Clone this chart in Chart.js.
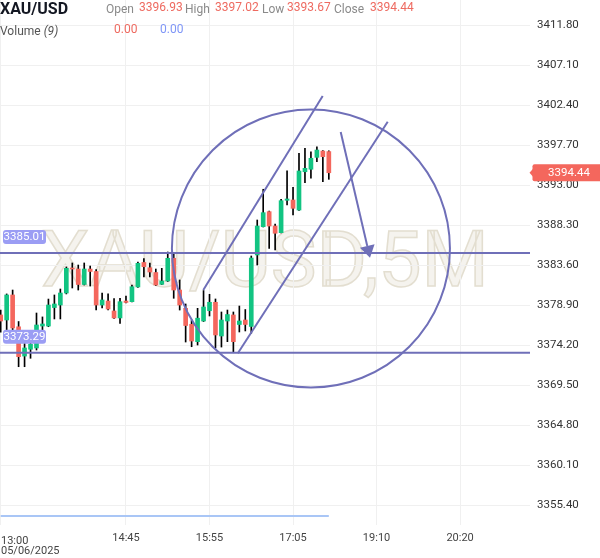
<!DOCTYPE html>
<html>
<head>
<meta charset="utf-8">
<script src="https://cdn.jsdelivr.net/npm/chart.js@4.4.0/dist/chart.umd.min.js"></script>
<style>
  html, body { margin: 0; padding: 0; background: #fff; }
  #wrap { position: relative; width: 600px; height: 558px; overflow: hidden; font-family: Roboto, sans-serif; }
  #wm {
    position: absolute; left: 0; top: 222px; width: 530px; text-align: center;
    font: 400 77px/77px Roboto, sans-serif; color: #f5f3ee;
    -webkit-text-stroke: 1.5px #e3ded0; white-space: nowrap; z-index: 0;
  }
  #box { position: absolute; left: 0; top: 0; width: 600px; height: 558px; z-index: 1; }
  .t { position: absolute; white-space: nowrap; font-size: 12px; line-height: 14px; z-index: 2; }
  .sym { font-weight: 700; font-size: 16px; line-height: 18px; color: #131722; left: 0; top: 0; }
  .k { color: #8a8a8a; top: 2px; }
  .v { color: #ee6a60; top: 0; }
  .vol { color: #555; top: 24px; left: 0; }
  .vb { color: #7f96f7; }
</style>
</head>
<body>
<div id="wrap">
  <div id="wm">XAU/USD,5M</div>
  <div id="box"><canvas id="c"></canvas></div>
  <div class="t sym">XAU/USD</div>
  <div class="t k" style="left:106px">Open</div><div class="t v" id="vO" style="left:139px"></div>
  <div class="t k" style="left:185px">High</div><div class="t v" id="vH" style="left:215px"></div>
  <div class="t k" style="left:262px">Low</div><div class="t v" id="vL" style="left:287px"></div>
  <div class="t k" style="left:334px">Close</div><div class="t v" id="vC" style="left:370px"></div>
  <div class="t vol">Volume <i>(9)</i></div>
  <div class="t v" style="left:114px;top:22px">0.00</div>
  <div class="t v vb" style="left:160px;top:22px">0.00</div>
</div>
<script>
// 5 minute candles from 13:00, index = bar number
const open  = [3377.73,3377.14,3380.08,3376.34,3372.90,3373.70,3373.85,3376.43,3376.43,3378.60,
               3378.90,3380.31,3383.25,3383.13,3381.31,3383.13,3382.84,3378.90,3379.37,3378.20,
               3377.38,3379.37,3379.29,3381.02,3383.90,3383.28,3382.72,3381.33,3381.72,3384.39,
               3380.66,3378.51,3376.63,3374.59,3377.02,3378.23,3379.22,3375.26,3377.02,3377.73,
               3376.61,3377.14,3376.38,3384.78,3388.10,3389.87,3388.18,3387.40,3391.20,3391.24,
               3390.06,3394.56,3394.85,3396.25,3396.99,3396.93];
const high  = [3378.30,3380.20,3380.66,3376.96,3374.43,3375.00,3377.96,3377.50,3379.60,3380.08,
               3380.78,3383.37,3383.84,3383.60,3383.84,3383.48,3383.07,3380.31,3380.20,3379.67,
               3379.69,3379.96,3381.25,3383.95,3384.36,3383.84,3383.13,3383.21,3385.13,3385.05,
               3381.84,3379.02,3377.14,3378.51,3380.60,3380.16,3379.61,3378.08,3378.31,3378.08,
               3378.78,3378.37,3384.66,3388.89,3392.50,3389.95,3388.42,3391.32,3394.68,3392.73,
               3396.73,3397.31,3396.91,3397.50,3397.05,3397.02];
const low   = [3375.70,3375.85,3375.85,3371.65,3371.65,3372.64,3373.61,3375.73,3376.35,3377.26,
               3377.26,3380.20,3380.90,3380.66,3381.25,3381.13,3378.31,3378.55,3378.31,3377.32,
               3376.75,3379.14,3379.25,3380.96,3382.19,3382.19,3381.19,3381.31,3381.66,3379.69,
               3378.31,3374.55,3374.00,3374.20,3376.96,3377.61,3373.85,3373.96,3374.59,3373.41,
               3375.73,3375.85,3375.58,3383.60,3388.07,3385.56,3385.36,3387.36,3390.65,3389.48,
               3390.00,3393.27,3393.79,3395.74,3393.39,3393.67];
const close = [3377.02,3380.08,3376.20,3372.83,3373.85,3374.28,3376.55,3376.67,3378.90,3379.02,
               3380.31,3383.21,3383.13,3381.31,3383.13,3382.84,3378.90,3379.49,3378.43,3377.38,
               3379.29,3379.20,3381.05,3383.80,3383.40,3382.78,3381.25,3381.72,3384.39,3380.66,
               3378.90,3376.49,3374.67,3377.35,3378.67,3379.22,3375.38,3377.14,3377.78,3374.59,
               3377.02,3376.61,3384.42,3388.18,3389.75,3388.18,3387.33,3391.16,3391.36,3390.26,
               3394.65,3394.96,3396.14,3397.11,3396.33,3394.44];
const volume = open.map(() => 0);

// axis ticks
const priceTicks = [3411.80,3407.10,3402.40,3397.70,3393.00,3388.30,3383.60,3378.90,3374.20,
                    3369.50,3364.80,3360.10,3355.40];
const timeTickIdx = [0, 21, 35, 49, 63, 77];
const timeTickText = ["13:00", "14:45", "15:55", "17:05", "19:10", "20:20"];
const dateText = "05/06/2025";

// user drawings, in (bar index, price)
const levels = [3385.01, 3373.29];
const channelA = [[33.96, 3380.66], [53.97, 3403.46]];
const channelB = [[39.75, 3373.23], [64.87, 3400.44]];
const arrowPath = [[56.99, 3399.23], [61.90, 3384.46]];
const circleCenter = [52.0, 3385.54];
const circleEdge = [75.3, 3385.54];

const GREEN = "#12c482", RED = "#f4675d", INK = "#6f6fb8", TAG = "#9b9df4";

const last = close.length - 1;
document.getElementById("vO").textContent = open[last].toFixed(2);
document.getElementById("vH").textContent = high[last].toFixed(2);
document.getElementById("vL").textContent = low[last].toFixed(2);
document.getElementById("vC").textContent = close[last].toFixed(2);

const noPad = ax => { ax.paddingTop = 0; ax.paddingBottom = 0; ax.paddingLeft = 0; ax.paddingRight = 0; };

const drawings = {
    id: "drawings",
    afterDatasetsDraw(chart) {
        const { ctx, chartArea: a, scales: { x, y } } = chart;
        const px = p => [x.getPixelForValue(p[0]), y.getPixelForValue(p[1])];
        ctx.save();
        ctx.beginPath();
        ctx.rect(a.left, a.top, a.right - a.left, a.bottom - a.top);
        ctx.clip();
        ctx.strokeStyle = INK;
        ctx.fillStyle = INK;
        ctx.lineWidth = 2;

        // horizontal levels
        levels.forEach(v => {
            const yy = y.getPixelForValue(v);
            ctx.beginPath(); ctx.moveTo(a.left, yy); ctx.lineTo(a.right, yy); ctx.stroke();
        });

        // channel
        [channelA, channelB].forEach(seg => {
            const p0 = px(seg[0]), p1 = px(seg[1]);
            ctx.beginPath(); ctx.moveTo(p0[0], p0[1]); ctx.lineTo(p1[0], p1[1]); ctx.stroke();
        });

        // circle
        const c = px(circleCenter), e = px(circleEdge);
        const r = Math.hypot(e[0] - c[0], e[1] - c[1]);
        ctx.beginPath(); ctx.arc(c[0], c[1], r, 0, Math.PI * 2); ctx.stroke();

        // arrow
        const s = px(arrowPath[0]), t = px(arrowPath[1]);
        const ang = Math.atan2(t[1] - s[1], t[0] - s[0]);
        const hl = 12, hw = 7.5;
        const bx = t[0] - hl * Math.cos(ang), by = t[1] - hl * Math.sin(ang);
        ctx.beginPath(); ctx.moveTo(s[0], s[1]); ctx.lineTo(bx, by); ctx.stroke();
        ctx.beginPath();
        ctx.moveTo(t[0], t[1]);
        ctx.lineTo(bx + hw * Math.sin(ang), by - hw * Math.cos(ang));
        ctx.lineTo(bx - hw * Math.sin(ang), by + hw * Math.cos(ang));
        ctx.closePath(); ctx.fill();

        // level labels
        ctx.font = "11.5px Roboto";
        ctx.textAlign = "center";
        ctx.textBaseline = "middle";
        levels.forEach(v => {
            const yy = y.getPixelForValue(v);
            ctx.fillStyle = TAG;
            ctx.beginPath(); ctx.roundRect(a.left + 3, yy - 23, 43, 14, 3); ctx.fill();
            ctx.fillStyle = "#fff";
            ctx.fillText(v.toFixed(2), a.left + 24.5, yy - 15.5);
        });
        ctx.restore();
    },
    afterDraw(chart) {
        const { ctx, chartArea: a, scales: { x, y } } = chart;
        ctx.save();
        // first time label, left aligned with date under it
        ctx.fillStyle = "#444";
        ctx.font = "11px Roboto";
        ctx.textAlign = "left";
        ctx.textBaseline = "alphabetic";
        const x0 = Math.max(1, x.getPixelForValue(timeTickIdx[0]));
        ctx.fillText(timeTickText[0], x0, 543.5);
        ctx.fillText(dateText, x0, 553.5);

        // last price tag
        const yy = y.getPixelForValue(close[last]);
        ctx.fillStyle = RED;
        ctx.beginPath();
        ctx.moveTo(a.right - 0.5, yy);
        ctx.lineTo(a.right + 3, yy - 4);
        ctx.lineTo(a.right + 3, yy + 4);
        ctx.closePath(); ctx.fill();
        ctx.beginPath(); ctx.roundRect(a.right + 2.5, yy - 8.5, 70, 17, 2); ctx.fill();
        ctx.fillStyle = "#fff";
        ctx.font = "11.5px Roboto";
        ctx.textAlign = "center";
        ctx.textBaseline = "middle";
        ctx.fillText(close[last].toFixed(2), a.right + 39, yy + 0.5);
        ctx.restore();
    }
};

const idx = open.map((_, i) => i);

new Chart(document.getElementById("c"), {
    type: "bar",
    data: {
        datasets: [
            {
                type: "line",
                label: "Volume",
                data: idx.map(i => ({ x: i, y: volume[i] })),
                yAxisID: "yv",
                borderColor: "#a9c6f6",
                borderWidth: 2,
                pointRadius: 0,
                order: 3
            },
            {
                label: "wick",
                data: idx.map(i => ({ x: i, y: [low[i], high[i]] })),
                backgroundColor: "#000",
                barThickness: 1,
                grouped: false,
                order: 2
            },
            {
                label: "body",
                data: idx.map(i => ({ x: i, y: [open[i], close[i]] })),
                backgroundColor: idx.map(i => close[i] >= open[i] ? GREEN : RED),
                barThickness: 4,
                minBarLength: 1,
                grouped: false,
                order: 1
            }
        ]
    },
    options: {
        responsive: true,
        maintainAspectRatio: false,
        animation: false,
        events: [],
        layout: { padding: 0 },
        plugins: { legend: { display: false }, tooltip: { enabled: false } },
        scales: {
            x: {
                type: "linear",
                min: -0.117,
                max: 88.72,
                offset: false,
                grid: { color: "#f0f0f0", offset: false, drawTicks: false },
                border: { display: false },
                afterBuildTicks: ax => { ax.ticks = timeTickIdx.map(v => ({ value: v })); },
                afterFit: ax => { ax.height = 33; noPad(ax); },
                ticks: {
                    autoSkip: false,
                    maxRotation: 0,
                    padding: 7,
                    color: "#444",
                    font: { family: "Roboto", size: 11 },
                    callback: v => v === timeTickIdx[0] ? "" : timeTickText[timeTickIdx.indexOf(v)]
                }
            },
            y: {
                position: "right",
                min: 3353.05,
                max: 3414.74,
                grid: { color: "#f0f0f0", drawTicks: false },
                border: { display: false },
                afterBuildTicks: ax => { ax.ticks = priceTicks.map(v => ({ value: v })); },
                afterFit: ax => { ax.width = 70; noPad(ax); },
                ticks: {
                    padding: 7,
                    color: "#333",
                    font: { family: "Roboto", size: 11.5 },
                    callback: v => Number(v).toFixed(2)
                }
            },
            yv: {
                display: false,
                min: -9,
                max: 516,
                afterFit: noPad
            }
        }
    },
    plugins: [drawings]
});
</script>
</body>
</html>
